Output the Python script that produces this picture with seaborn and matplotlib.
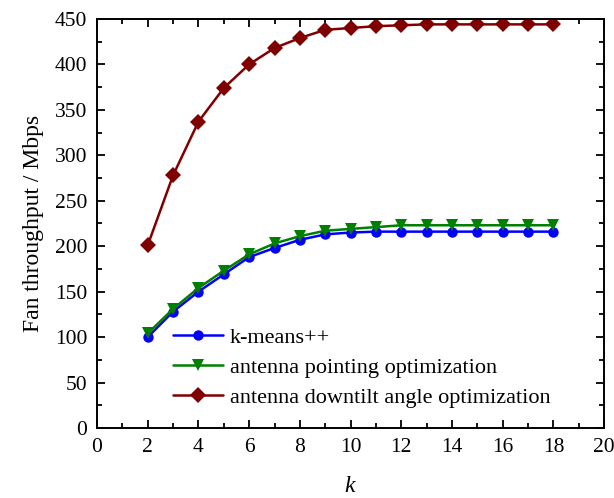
import numpy as np
import pandas as pd
import seaborn as sns
import matplotlib
matplotlib.use("Agg")
import matplotlib.pyplot as plt
from matplotlib.ticker import MultipleLocator

k = [2, 3, 4, 5, 6, 7, 8, 9, 10, 11, 12, 13, 14, 15, 16, 17, 18]
kmeans = [100, 128, 150, 169, 188, 198, 207, 213, 215, 216, 216, 216, 216, 216, 216, 216, 216]
pointing = [104, 131, 154, 173, 191, 203, 211, 217, 219, 221, 223, 223, 223, 223, 223, 223, 223]
downtilt = [201, 278, 337, 374, 400, 418, 429, 438, 440, 442, 443, 444, 444, 444, 444, 444, 444]
labels = ["k-means++", "antenna pointing optimization", "antenna downtilt angle optimization"]
colors = ["#0000ff", "#008000", "#800000"]
markers = ["o", "v", "D"]

sns.set_style("ticks")
plt.rcParams['font.family'] = ['Liberation Serif', 'DejaVu Serif']
plt.rcParams['mathtext.fontset'] = 'custom'
plt.rcParams['mathtext.it'] = 'Liberation Serif:italic'
for key in ['text.color', 'axes.labelcolor', 'xtick.color', 'ytick.color', 'axes.edgecolor']:
    plt.rcParams[key] = 'black'

fig = plt.figure(figsize=(6.14, 4.98), dpi=100)
ax = fig.add_axes([0.158, 0.1406, 0.826, 0.8214])

series = [kmeans, pointing, downtilt]
for lab, vals, c, m in zip(labels, series, colors, markers):
    sns.lineplot(x=k, y=vals, color=c, marker=m, markersize=8 if m != "o" else 7.5,
                 linewidth=1.8, markeredgewidth=0, label=lab, ax=ax)

ax.set_xlim(0, 20)
ax.set_ylim(0, 450)
ax.xaxis.set_major_locator(MultipleLocator(2))
ax.xaxis.set_minor_locator(MultipleLocator(1))
ax.yaxis.set_major_locator(MultipleLocator(50))
ax.yaxis.set_minor_locator(MultipleLocator(25))
ax.tick_params(which='both', direction='in', top=True, right=True, labelsize=15.5, width=1.3,
               colors='black')
ax.tick_params(which='major', length=6, pad=7)
ax.tick_params(which='minor', length=3.5)
for s in ax.spines.values():
    s.set_linewidth(1.4)
    s.set_color('black')
ax.set_xlabel("$k$", fontsize=17, labelpad=14)
ax.set_ylabel("Fan throughput / Mbps", fontsize=17, labelpad=8)

h = ax.get_lines()[:3]
ax.legend(h, labels, loc='lower left', bbox_to_anchor=(0.15, 0.05), frameon=False,
          borderaxespad=0, borderpad=0,
          fontsize=16, handlelength=2.25, handletextpad=0.3, labelspacing=0.42)

fig.savefig("out.png", dpi=100)
